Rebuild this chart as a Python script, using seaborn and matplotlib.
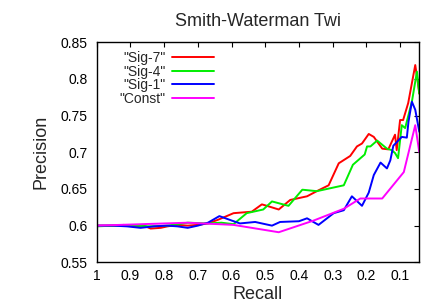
import pandas as pd
import numpy as np

import seaborn as sns
import matplotlib.pyplot as plt

# recall / precision
sig7_recall = [1.0, 0.95, 0.92, 0.89, 0.86, 0.84, 0.81, 0.79, 0.76, 0.73, 0.70, 0.67, 0.64, 0.594,
               0.54, 0.51, 0.495, 0.46, 0.426, 0.396, 0.376, 0.347, 0.312, 0.282, 0.248, 0.228,
               0.213, 0.193, 0.178, 0.153, 0.135, 0.125, 0.115, 0.11, 0.1, 0.091, 0.076, 0.055,
               0.047, 0.043]
sig7_prec = [0.6, 0.6, 0.601, 0.599, 0.6, 0.596, 0.597, 0.599, 0.601, 0.6, 0.601, 0.603, 0.608, 0.617,
             0.619, 0.629, 0.627, 0.622, 0.635, 0.638, 0.64, 0.647, 0.655, 0.685, 0.695, 0.708,
             0.712, 0.725, 0.721, 0.705, 0.704, 0.714, 0.724, 0.703, 0.744, 0.744, 0.767, 0.819,
             0.794, 0.78]

sig4_recall = [1.0, 0.95, 0.89, 0.84, 0.79, 0.73, 0.67, 0.63, 0.594, 0.555, 0.506, 0.48, 0.431,
               0.39, 0.347, 0.267, 0.24, 0.205, 0.198, 0.188, 0.168, 0.139, 0.125, 0.115, 0.106,
               0.095, 0.085, 0.065, 0.05, 0.043]
sig4_prec = [0.599, 0.6, 0.6, 0.599, 0.6, 0.604, 0.603, 0.604, 0.602, 0.617, 0.622, 0.633, 0.627,
             0.649, 0.647, 0.655, 0.683, 0.697, 0.708, 0.708, 0.716, 0.705, 0.703, 0.699, 0.692,
             0.737, 0.733, 0.769, 0.81, 0.78]

sig1_recall = [1.0, 0.95, 0.91, 0.87, 0.83, 0.79, 0.76, 0.73, 0.70, 0.67, 0.636, 0.60, 0.575,
               0.53, 0.48, 0.456, 0.4, 0.376, 0.342, 0.297, 0.267, 0.243, 0.213, 0.193, 0.178,
               0.158, 0.139, 0.129, 0.12, 0.095, 0.08, 0.075, 0.065, 0.055, 0.043]
sig1_prec = [0.6, 0.6, 0.599, 0.597, 0.599, 0.6, 0.599, 0.597, 0.6, 0.604, 0.613, 0.607, 0.603,
             0.605, 0.6, 0.605, 0.606, 0.61, 0.601, 0.617, 0.621, 0.64, 0.627, 0.645, 0.669,
             0.686, 0.678, 0.689, 0.709, 0.721, 0.72, 0.742, 0.769, 0.758, 0.728]

const_recall = [1.0, 0.73, 0.594, 0.46, 0.356, 0.267, 0.218, 0.153, 0.089, 0.055, 0.043]
const_prec = [0.6, 0.604, 0.601, 0.591, 0.607, 0.623, 0.637, 0.637, 0.673, 0.737, 0.7]

series = [('"Sig-7"', sig7_recall, sig7_prec, '#ff0000'),
          ('"Sig-4"', sig4_recall, sig4_prec, '#00ee00'),
          ('"Sig-1"', sig1_recall, sig1_prec, '#0000ff'),
          ('"Const"', const_recall, const_prec, '#ff00ff')]

x_ticks = [1.0, 0.9, 0.8, 0.7, 0.6, 0.5, 0.4, 0.3, 0.2, 0.1]
x_labels = ['1', '0.9', '0.8', '0.7', '0.6', '0.5', '0.4', '0.3', '0.2', '0.1']
y_ticks = [0.55, 0.6, 0.65, 0.7, 0.75, 0.8, 0.85]
y_labels = ['0.55', '0.6', '0.65', '0.7', '0.75', '0.8', '0.85']

sns.set_style('white')
plt.rcParams['font.family'] = ['Liberation Sans', 'DejaVu Sans']

fig = plt.figure(figsize=(4.41, 3.08), dpi=100)
ax = fig.add_axes([96.7 / 441, 1 - 262.3 / 308, (419.3 - 96.7) / 441, (262.3 - 42.3) / 308])

for name, rec, prec, col in series:
    df = pd.DataFrame({'Recall': rec, 'Precision': prec})
    sns.lineplot(data=df, x='Recall', y='Precision', ax=ax, color=col, lw=1.4,
                 sort=False, estimator=None, label=name)

ax.set_xlim(1.0, 0.043)
ax.set_ylim(0.55, 0.85)
ax.set_xticks(x_ticks)
ax.set_xticklabels(x_labels)
ax.set_yticks(y_ticks)
ax.set_yticklabels(y_labels)
ax.tick_params(direction='in', length=3.6, width=0.8, top=True, right=True,
               labelsize=10, colors='black')
ax.tick_params(axis='x', pad=5)
ax.tick_params(axis='y', pad=6.5)
for sp in ax.spines.values():
    sp.set_color('black')
    sp.set_linewidth(1.0)

ax.set_xlabel('Recall', fontsize=13, labelpad=2)
ax.set_ylabel('Precision', fontsize=13, labelpad=8)
ax.set_title('Smith-Waterman Twi', fontsize=13, pad=12)

leg = ax.legend(loc='upper right', bbox_to_anchor=(214 / 441, 1 - 51 / 308),
                bbox_transform=fig.transFigure, frameon=False, markerfirst=False,
                fontsize=10, handlelength=3.0, handletextpad=0.5, labelspacing=-0.03,
                borderpad=0, borderaxespad=0)

fig.savefig('out.png', dpi=100)
